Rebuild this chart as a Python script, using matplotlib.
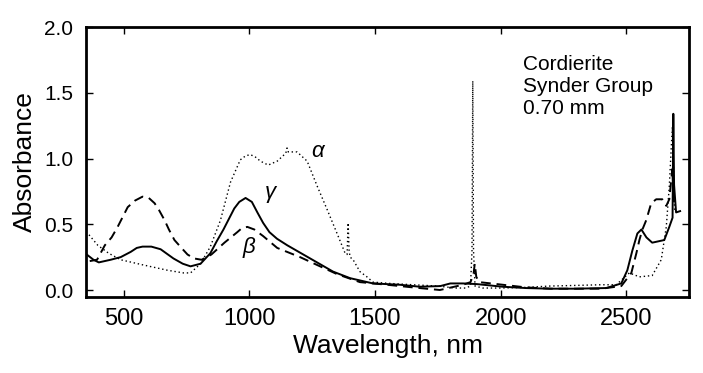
import matplotlib
matplotlib.use("Agg")
import matplotlib.pyplot as plt

plt.rcParams['font.family'] = ['Liberation Sans', 'DejaVu Sans']

# gamma (solid)
gamma_wl = [353, 380, 401, 448, 488, 528, 552, 575, 610, 647, 698, 735, 766, 806,
            845, 870, 897, 940, 960, 985, 1010, 1032, 1055, 1080, 1110, 1151, 1242,
            1333, 1401, 1492, 1599, 1678, 1760, 1800, 1850, 1905, 2008, 2100, 2194,
            2300, 2420, 2480, 2504, 2524, 2544, 2560, 2580, 2603, 2651, 2671, 2684,
            2687, 2690, 2698, 2714]
gamma_ab = [0.27, 0.23, 0.21, 0.23, 0.25, 0.29, 0.32, 0.33, 0.33, 0.31, 0.24, 0.20,
            0.18, 0.20, 0.28, 0.37, 0.46, 0.62, 0.67, 0.70, 0.67, 0.59, 0.51, 0.44,
            0.39, 0.34, 0.24, 0.14, 0.09, 0.05, 0.04, 0.025, 0.03, 0.05, 0.05, 0.045,
            0.025, 0.015, 0.01, 0.01, 0.015, 0.05, 0.15, 0.30, 0.43, 0.46, 0.40,
            0.36, 0.38, 0.48, 0.55, 1.34, 0.80, 0.59, 0.60]

# beta (dashed)
beta_wl = [365, 394, 425, 452, 476, 516, 545, 575, 600, 623, 640, 663, 680, 702,
           730, 754, 780, 810, 849, 901, 952, 970, 992, 1020, 1055, 1111, 1202,
           1270, 1350, 1440, 1548, 1650, 1758, 1850, 1880, 1892, 1897, 1903, 1915,
           2008, 2100, 2200, 2400, 2480, 2520, 2540, 2552, 2564, 2579, 2599, 2619,
           2643, 2659, 2671, 2683, 2690]
beta_ab = [0.22, 0.23, 0.34, 0.40, 0.48, 0.63, 0.68, 0.71, 0.70, 0.66, 0.61, 0.53,
           0.46, 0.38, 0.32, 0.27, 0.24, 0.23, 0.27, 0.36, 0.44, 0.47, 0.48, 0.46,
           0.41, 0.32, 0.25, 0.19, 0.12, 0.06, 0.04, 0.02, 0.0, 0.04, 0.06, 0.12,
           0.20, 0.10, 0.06, 0.04, 0.02, 0.01, 0.01, 0.03, 0.13, 0.28, 0.38, 0.46,
           0.53, 0.66, 0.69, 0.69, 0.64, 0.69, 0.92, 0.65]

# alpha (dotted)
alpha_wl = [362, 397, 440, 488, 579, 675, 738, 766, 806, 845, 885, 925, 964, 985,
            1004, 1025, 1044, 1075, 1111, 1145, 1150, 1155, 1190, 1230, 1270, 1310,
            1349, 1381, 1389, 1393, 1397, 1401, 1413, 1440, 1468, 1492, 1559, 1650,
            1750, 1820, 1860, 1880, 1886, 1889, 1892, 1898, 1929, 2000, 2100, 2194,
            2300, 2400, 2460, 2512, 2552, 2603, 2639, 2659, 2671, 2683, 2688, 2692]
alpha_ab = [0.42, 0.34, 0.28, 0.23, 0.19, 0.15, 0.13, 0.13, 0.20, 0.33, 0.53, 0.82,
            0.99, 1.02, 1.03, 1.01, 0.98, 0.95, 0.98, 1.04, 1.08, 1.05, 1.05, 0.98,
            0.79, 0.61, 0.43, 0.28, 0.27, 0.51, 0.30, 0.25, 0.23, 0.14, 0.10, 0.06,
            0.05, 0.04, 0.03, 0.015, 0.015, 0.03, 0.3, 1.59, 0.3, 0.03, 0.015,
            0.015, 0.02, 0.03, 0.035, 0.04, 0.04, 0.13, 0.10, 0.11, 0.23, 0.48,
            0.79, 1.24, 0.9, 0.6]

x_ticks = [500, 1000, 1500, 2000, 2500]
y_ticks = [0.0, 0.5, 1.0, 1.5, 2.0]

fig = plt.figure(figsize=(7.03, 3.73), dpi=100)
ax = fig.add_axes([0.1223, 0.2038, 0.858, 0.7238])

ax.plot(gamma_wl, gamma_ab, color='black', lw=1.4, ls='-')
ax.plot(beta_wl, beta_ab, color='black', lw=1.4, ls=(0, (5, 3)))
ax.plot(alpha_wl, alpha_ab, color='black', lw=1.0, ls=(0, (1, 2)))

ax.text(1270, 1.05, 'α', fontsize=16, style='italic', ha='center', va='center')
ax.text(1083, 0.74, 'γ', fontsize=16, style='italic', ha='center', va='center')
ax.text(998, 0.32, 'β', fontsize=16, style='italic', ha='center', va='center')
ax.text(2087, 1.79, 'Cordierite\nSynder Group\n0.70 mm', fontsize=15,
        ha='left', va='top', linespacing=1.2)

ax.set_xlim(350, 2750)
ax.set_ylim(-0.053, 2.0)
ax.set_xticks(x_ticks)
ax.set_yticks(y_ticks)
ax.set_yticklabels([f'{v:.1f}' for v in y_ticks])
ax.tick_params(axis='x', direction='in', top=True, length=5, width=1,
               labelsize=17, pad=8)
ax.tick_params(axis='y', direction='in', right=True, length=5, width=1,
               labelsize=15, pad=9)
for s in ax.spines.values():
    s.set_linewidth(2)

ax.set_xlabel('Wavelength, nm', fontsize=19, labelpad=3)
ax.set_ylabel('Absorbance', fontsize=19, labelpad=5)

fig.savefig('out.png', dpi=100)
